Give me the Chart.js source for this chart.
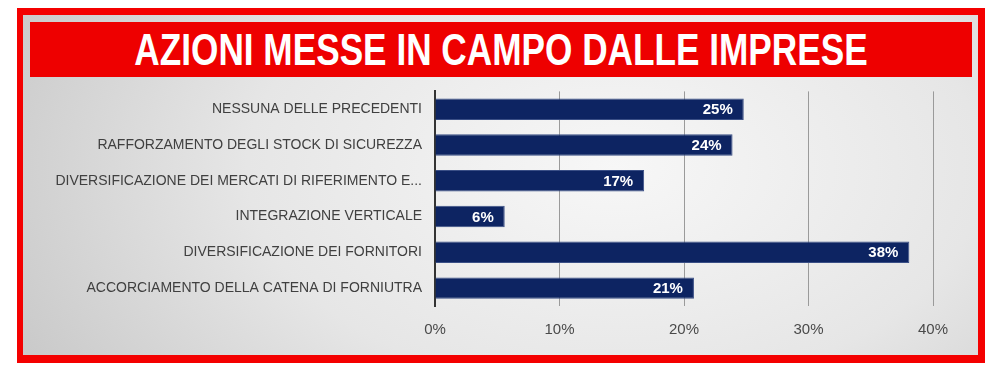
<!DOCTYPE html>
<html>
<head>
<meta charset="utf-8">
<script src="https://cdn.jsdelivr.net/npm/chart.js@4.4.1/dist/chart.umd.min.js"></script>
<style>
    body { margin: 0; width: 1000px; height: 370px; background: #ffffff; position: relative; overflow: hidden; }
    .frame { position: absolute; left: 17px; top: 8px; width: 968px; height: 355px; background: #f40000; }
    .inner { position: absolute; left: 23px; top: 15px; width: 955px; height: 340px;
        background: radial-gradient(ellipse 70% 120% at 62% 45%, #f7f7f7 0%, #e6e6e6 55%, #c9c9c9 100%); }
    .banner { position: absolute; left: 30px; top: 22px; width: 942px; height: 55px; background: #ee0000; }
    .banner span { position: absolute; left: 50%; top: 0; white-space: nowrap; color: #fff;
        font-family: "Liberation Sans", Arial, sans-serif; font-weight: bold; font-size: 44px; line-height: 56px;
        transform: translateX(-50%) scaleX(0.8); }
    .chart-box { position: absolute; left: 23px; top: 70px; width: 955px; height: 291px; }
</style>
</head>
<body>
<div class="frame"></div>
<div class="inner"></div>
<div class="banner"><span>AZIONI MESSE IN CAMPO DALLE IMPRESE</span></div>
<div class="chart-box"><canvas id="azioni" width="955" height="291"></canvas></div>

<script>
// categorie (dall'alto in basso) e valori in %
var categories = [
    "NESSUNA DELLE PRECEDENTI",
    "RAFFORZAMENTO DEGLI STOCK DI SICUREZZA",
    "DIVERSIFICAZIONE DEI MERCATI DI RIFERIMENTO E...",
    "INTEGRAZIONE VERTICALE",
    "DIVERSIFICAZIONE DEI FORNITORI",
    "ACCORCIAMENTO DELLA CATENA DI FORNIUTRA"
];
var values = [24.8, 23.9, 16.8, 5.6, 38.1, 20.8];
var barLabels = ["25%", "24%", "17%", "6%", "38%", "21%"];
var xTicks = [0, 10, 20, 30, 40];

// etichette bianche dentro la barra
var valueLabels = {
    id: 'valueLabels',
    afterDatasetsDraw: function (chart) {
        var ctx = chart.ctx;
        var meta = chart.getDatasetMeta(0);
        ctx.save();
        ctx.fillStyle = '#ffffff';
        ctx.font = 'bold 15px "Liberation Sans", Arial, sans-serif';
        ctx.textAlign = 'right';
        ctx.textBaseline = 'middle';
        meta.data.forEach(function (bar, i) {
            ctx.fillText(barLabels[i], bar.x - 11, bar.y + 1);
        });
        ctx.restore();
    }
};

var ctx1 = document.getElementById('azioni').getContext('2d');
var chart1 = new Chart(ctx1, {
    type: 'bar',
    data: {
        labels: categories,
        datasets: [{
            data: values,
            backgroundColor: '#0d2462',
            borderColor: '#3a4f86',
            borderWidth: 1,
            barPercentage: 0.6,
            categoryPercentage: 1
        }]
    },
    options: {
        indexAxis: 'y',
        responsive: false,
        animation: false,
        maintainAspectRatio: false,
        layout: { padding: { top: 0, right: 45, bottom: 7, left: 0 } },
        plugins: {
            legend: { display: false },
            tooltip: { enabled: false }
        },
        scales: {
            x: {
                min: 0,
                max: 40,
                afterBuildTicks: function (axis) {
                    axis.ticks = xTicks.map(function (v) { return { value: v }; });
                },
                ticks: {
                    color: '#4a4a4a',
                    padding: 15,
                    maxRotation: 0,
                    font: { family: '"Liberation Sans", Arial, sans-serif', size: 15 },
                    callback: function (v) { return v + '%'; }
                },
                grid: { color: '#9a9a9a', lineWidth: 1, drawTicks: false },
                border: { display: false }
            },
            y: {
                afterFit: function (axis) { axis.width = 412; },
                ticks: {
                    color: '#404040',
                    padding: 13,
                    font: { family: '"Liberation Sans", Arial, sans-serif', size: 14 }
                },
                grid: { display: false, drawTicks: false },
                border: { display: true, color: '#333333', width: 2 }
            }
        }
    },
    plugins: [valueLabels]
});
</script>
</body>
</html>
